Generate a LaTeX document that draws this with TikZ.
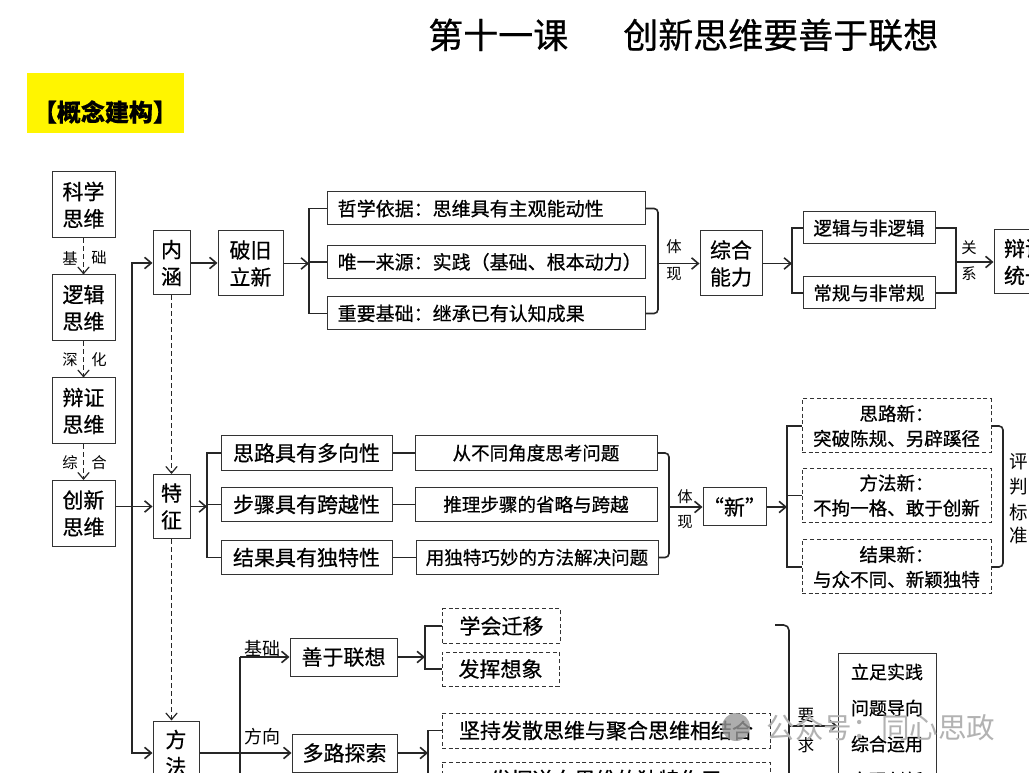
\documentclass[tikz,border=0pt]{standalone}
\usepackage{fontspec}
\setmainfont{Noto Sans CJK SC}[FakeBold=0.6]
\newfontfamily\thinfont{Noto Sans CJK SC}
\usetikzlibrary{arrows.meta}

\definecolor{tagyellow}{RGB}{255,245,0}
\newcommand\bigtxt{\fontsize{15.75}{20.25}\selectfont}
\newcommand\midtxt{\fontsize{14.25}{18}\selectfont}
\newcommand\smalltxt{\fontsize{13.9}{18.75}\selectfont}
\newcommand\labtxt{\thinfont\fontsize{11.5}{13}\selectfont}

\begin{document}
\begin{tikzpicture}[x=0.75pt,y=-0.75pt,
  box/.style={draw=black!80,line width=0.75pt,inner sep=0pt,align=center,font=\bigtxt},
  dbox/.style={box,dash pattern=on 3pt off 2pt},
  link/.style={draw=black!85,line width=1.2pt},
  arr/.style={link,-{Straight Barb[length=5pt,width=8.5pt]}},
  darr/.style={arr,line width=0.9pt,dash pattern=on 3.5pt off 2.5pt},
  lab/.style={inner sep=0pt,font=\labtxt}]
\useasboundingbox (0,0) rectangle (1029,773);
\clip (0,0) rectangle (1029,773);
\fill[white] (0,0) rectangle (1029,773);

% title and tag
\node[anchor=west,inner sep=0pt,font=\fontsize{26.25}{28}\selectfont] (title) at (428,35)
  {第十一课\hspace{41.25pt}创新思维要善于联想};
\node[fill=tagyellow,minimum width=117.75pt,minimum height=45pt,inner sep=0pt] (tagbg) at (105.5,103) {};
\node[inner sep=0pt,font=\bfseries\fontsize{18}{20}\selectfont] (tag) at (105,112) {【概念建构】};

% left column
\node[box,minimum width=47.25pt,minimum height=49.5pt] (kxsw) at (83.5,205) {科学\\思维};
\node[box,minimum width=47.25pt,minimum height=49.5pt] (ljsw) at (83.5,308) {逻辑\\思维};
\node[box,minimum width=47.25pt,minimum height=49.5pt] (bzsw) at (83.5,411) {辩证\\思维};
\node[box,minimum width=47.25pt,minimum height=49.5pt] (cxsw) at (83.5,513.5) {创新\\思维};
\draw[darr] (kxsw) -- (ljsw);
\draw[darr] (ljsw) -- (bzsw);
\draw[darr] (bzsw) -- (cxsw);
\node[lab] (ja) at (70,258) {基};  \node[lab] (jb) at (99,258) {础};
\node[lab] (sa) at (70,360) {深};  \node[lab] (sb) at (99,360) {化};
\node[lab] (za) at (70,463) {综};  \node[lab] (zb) at (99,463) {合};

% three aspects
\node[box,minimum width=27.75pt,minimum height=48pt] (nh) at (171.5,263) {内\\涵};
\node[box,minimum width=27.75pt,minimum height=48pt] (tz) at (171.5,506.5) {特\\征};
\node[box,minimum width=34.5pt,minimum height=48pt] (ff) at (176,753) {方\\法};
\coordinate (b0) at (132,0);
\draw[arr] (cxsw.east |- tz) -- (tz.west);
\draw[arr] (b0 |- tz) |- (nh.west);
\draw[arr] (b0 |- tz) |- (ff.west);
\draw[darr] (nh.south) -- (nh.south |- tz.north);
\draw[darr] (tz.south) -- (tz.south |- ff.north);

% neihan
\node[box,minimum width=48.75pt,minimum height=48.75pt] (pj) at (250.5,263.5) {破旧\\立新};
\draw[arr] (nh.east) -- (pj.west |- nh);
\tikzset{tbox/.style={box,font=\midtxt,text width=222.5pt,inner xsep=8pt,align=left,minimum height=24.75pt}}
\node[tbox] (zx) at (486,208.5) {哲学依据：思维具有主观能动性};
\node[tbox] (wy) at (486,262) {唯一来源：实践（基础、根本动力）};
\node[tbox] (zy) at (486,313.5) {重要基础：继承已有认知成果};
\coordinate (b1) at (309,0);
\draw[arr] (pj.east) -- (b1 |- pj);
\draw[link] (zx.west) -- (b1 |- zx) -- (b1 |- zy) -- (zy.west);
\draw[link] (wy.west) -- (b1 |- wy);
\node[box,minimum width=46.5pt,minimum height=48.75pt] (zh) at (731,263.5) {综合\\能力};
\coordinate (b2) at (658,0);
\draw[link,rounded corners=3pt] (zx.east) -- (b2 |- zx) -- (b2 |- zy) -- (zy.east);
\draw[arr] (b2 |- zh) -- (zh.west);
\node[lab] (tx1) at (674,247) {体};  \node[lab] (tx2) at (674,274) {现};
\node[box,font=\smalltxt,minimum width=99pt,minimum height=24pt] (lj) at (869,228) {逻辑与非逻辑};
\node[box,font=\smalltxt,minimum width=99pt,minimum height=24pt] (cg) at (869,293) {常规与非常规};
\coordinate (b3) at (792,0);
\draw[arr] (zh.east) -- (b3 |- zh);
\draw[link] (lj.west) -- (b3 |- lj) -- (b3 |- cg) -- (cg.west);
\node[box,minimum width=46.5pt,minimum height=48pt] (bz) at (1025,262) {辩证\\统一};
\coordinate (b4) at (956,0);
\draw[link] (lj.east) -- (b4 |- lj) -- (b4 |- cg) -- (cg.east);
\draw[arr] (b4 |- bz) -- (bz.west);
\node[lab] (gx1) at (969,248) {关};  \node[lab] (gx2) at (969,274) {系};

% tezheng
\tikzset{lbox/.style={box,minimum width=128.25pt,minimum height=26pt},
  rbox/.style={box,font=\smalltxt,minimum width=181.5pt,minimum height=26pt}}
\node[lbox] (s1) at (306.5,453) {思路具有多向性};
\node[lbox] (s2) at (306.5,504.5) {步骤具有跨越性};
\node[lbox] (s3) at (306.5,557.5) {结果具有独特性};
\node[rbox] (r1) at (536,453) {从不同角度思考问题};
\node[rbox] (r2) at (536,504.5) {推理步骤的省略与跨越};
\node[rbox] (r3) at (537,557.5) {用独特巧妙的方法解决问题};
\foreach \i in {1,2,3} \draw[link] (s\i.east) -- (r\i.west);
\coordinate (b5) at (207,0);
\draw[arr] (tz.east) -- (b5 |- tz);
\draw[link] (s1.west) -- (b5 |- s1) -- (b5 |- s3) -- (s3.west);
\draw[link] (s2.west) -- (b5 |- s2);
\node[box,minimum width=42.75pt,minimum height=28.5pt] (xin) at (734.5,507) {“新”};
\coordinate (b6) at (669,0);
\draw[link,rounded corners=3pt] (r1.east) -- (b6 |- r1) -- (b6 |- r3) -- (r3.east);
\draw[arr] (b6 |- xin) -- (xin.west);
\node[lab] (tx3) at (685,497) {体};  \node[lab] (tx4) at (685,522) {现};
\tikzset{nbox/.style={dbox,font=\smalltxt,minimum width=141.75pt,minimum height=40.5pt}}
\node[nbox] (n1) at (896.5,426) {思路新：\\突破陈规、另辟蹊径};
\node[nbox] (n2) at (896.5,495.5) {方法新：\\不拘一格、敢于创新};
\node[nbox] (n3) at (896.5,567) {结果新：\\与众不同、新颖独特};
\coordinate (b7) at (787,0);
\draw[arr] (xin.east) -- (b7 |- xin);
\draw[link] (n1.west) -- (b7 |- n1) -- (b7 |- n3) -- (n3.west);
\draw[link] (n2.west) -- (b7 |- n2);
\coordinate (b8) at (1003,0);
\draw[link,rounded corners=3pt] (n1.east) -- (b8 |- n1) -- (b8 |- n3) -- (n3.east);
\node[lab,font=\thinfont\smalltxt] (pp1) at (1019,462) {评};
\node[lab,font=\thinfont\smalltxt] (pp2) at (1019,487) {判};
\node[lab,font=\thinfont\smalltxt] (pp3) at (1019,512) {标};
\node[lab,font=\thinfont\smalltxt] (pp4) at (1019,536) {准};

% fangfa
\node[box,minimum width=80.25pt,minimum height=28.5pt] (sy) at (343.5,657) {善于联想};
\node[box,minimum width=78.75pt,minimum height=28.5pt] (dl) at (344.5,753) {多路探索};
\draw[arr] (ff.east) -- (dl.west);
\coordinate (b9) at (240,0);
\coordinate (b9end) at (240,800);
\draw[link] (b9 |- sy) -- (b9end);
\draw[arr] (b9 |- sy) -- (sy.west);
\node[lab,font=\thinfont\fontsize{13.5}{15}\selectfont] (jc1) at (262,649) {基础};
\node[lab,font=\thinfont\fontsize{13.5}{15}\selectfont] (fx1) at (262,737) {方向};
\node[dbox,minimum width=88.5pt,minimum height=25.5pt] (xq) at (501.5,626) {学会迁移};
\node[dbox,minimum width=87.75pt,minimum height=25.5pt] (fx) at (500.5,669) {发挥想象};
\coordinate (b10) at (425,0);
\draw[arr] (sy.east) -- (b10 |- sy);
\draw[link] (xq.west) -- (b10 |- xq) -- (b10 |- fx) -- (fx.west);
\node[dbox,minimum width=246pt,minimum height=26.25pt] (jc) at (606,730.5) {坚持发散思维与聚合思维相结合};
\node[dbox,minimum width=246pt,minimum height=26.25pt] (fh) at (606,779.5) {发挥逆向思维的独特作用};
\coordinate (b11) at (428,0);
\draw[arr] (dl.east) -- (b11 |- dl);
\draw[link] (jc.west) -- (b11 |- jc) -- (b11 |- fh) -- (fh.west);
\node[box,font=\fontsize{13.5}{27}\selectfont,minimum width=73.5pt,minimum height=109.5pt] (lz) at (887,726)
  {立足实践\\问题导向\\综合运用\\实现创新};
\coordinate (b12) at (789,0);
\coordinate (yqtop) at (775,625);
\coordinate (yqbot) at (775,831);
\draw[link,rounded corners=4pt] (yqtop) -- (b12 |- yqtop) -- (b12 |- yqbot) -- (yqbot);
\draw[arr] (b12 |- lz) -- (lz.west);
\node[lab,font=\thinfont\fontsize{12.5}{14}\selectfont] (yq1) at (806,716) {要};
\node[lab,font=\thinfont\fontsize{12.5}{14}\selectfont] (yq2) at (806,745) {求};

% watermark
\node[circle,fill=black!40,opacity=0.8,minimum size=21pt,inner sep=0pt] (wmlogo) at (736,727) {};
\node[inner sep=0pt,text=black!30,font=\thinfont\fontsize{21.4}{24}\selectfont] (wm) at (881,728) {公众号：同心思政};
\end{tikzpicture}
\end{document}
